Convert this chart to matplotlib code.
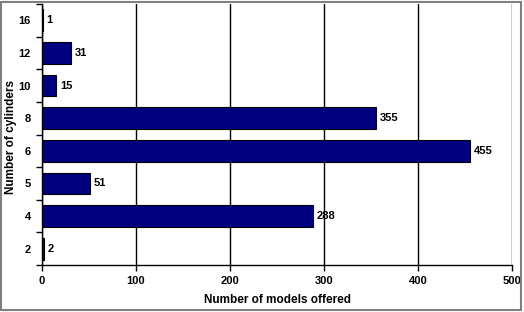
import matplotlib
matplotlib.use("Agg")
import matplotlib.pyplot as plt
from matplotlib.patches import Rectangle
import numpy as np

cylinders = ["2", "4", "5", "6", "8", "10", "12", "16"]
models = [2, 288, 51, 455, 355, 15, 31, 1]
xticks = [0, 100, 200, 300, 400, 500]

plt.rcParams['font.family'] = ['Liberation Sans', 'DejaVu Sans']
plt.rcParams['font.weight'] = 'bold'
plt.rcParams['font.size'] = 8

fig = plt.figure(figsize=(5.24, 3.12), dpi=100)
ax = fig.add_axes([42/524, 1 - 265/312, 470/524, 261/312])

y = np.arange(len(cylinders))
ax.barh(y, models, height=0.67, color='#000080', edgecolor='black', linewidth=0.8, zorder=3)
for yi, v in zip(y, models):
    ax.text(v + 4, yi, str(v), va='center', ha='left', fontweight='bold', fontsize=8)

ax.set_xlim(0, 500)
ax.set_ylim(-0.5, len(cylinders) - 0.5)
ax.set_xticks(xticks)
ax.set_xticklabels([str(t) for t in xticks], fontweight='bold')
ax.set_yticks(y)
ax.set_yticklabels(cylinders, fontweight='bold')
ax.set_yticks(np.arange(-0.5, len(cylinders), 1), minor=True)
ax.tick_params(axis='y', which='major', length=0, pad=8)
ax.tick_params(axis='y', which='minor', length=4, width=1, direction='out')
ax.tick_params(axis='x', length=4, width=1, direction='out', pad=4)
ax.grid(axis='x', color='black', linewidth=1, zorder=0)
ax.spines['top'].set_visible(False)
ax.spines['right'].set_visible(False)
ax.spines['left'].set_linewidth(1)
ax.spines['bottom'].set_linewidth(1)

fig.text(277/524, 1 - 300/312, "Number of models offered", ha='center', va='center',
         fontweight='bold', fontsize=8.5)
fig.text(11/524, 1 - 137/312, "Number of cylinders", rotation=90, ha='center', va='center',
         fontweight='bold', fontsize=8.5)

fig.patches.append(Rectangle((1/524, 2/312), 520/524, 308/312, transform=fig.transFigure,
                             fill=False, edgecolor='#808080', linewidth=1.5))

fig.savefig("out.png", dpi=100)
